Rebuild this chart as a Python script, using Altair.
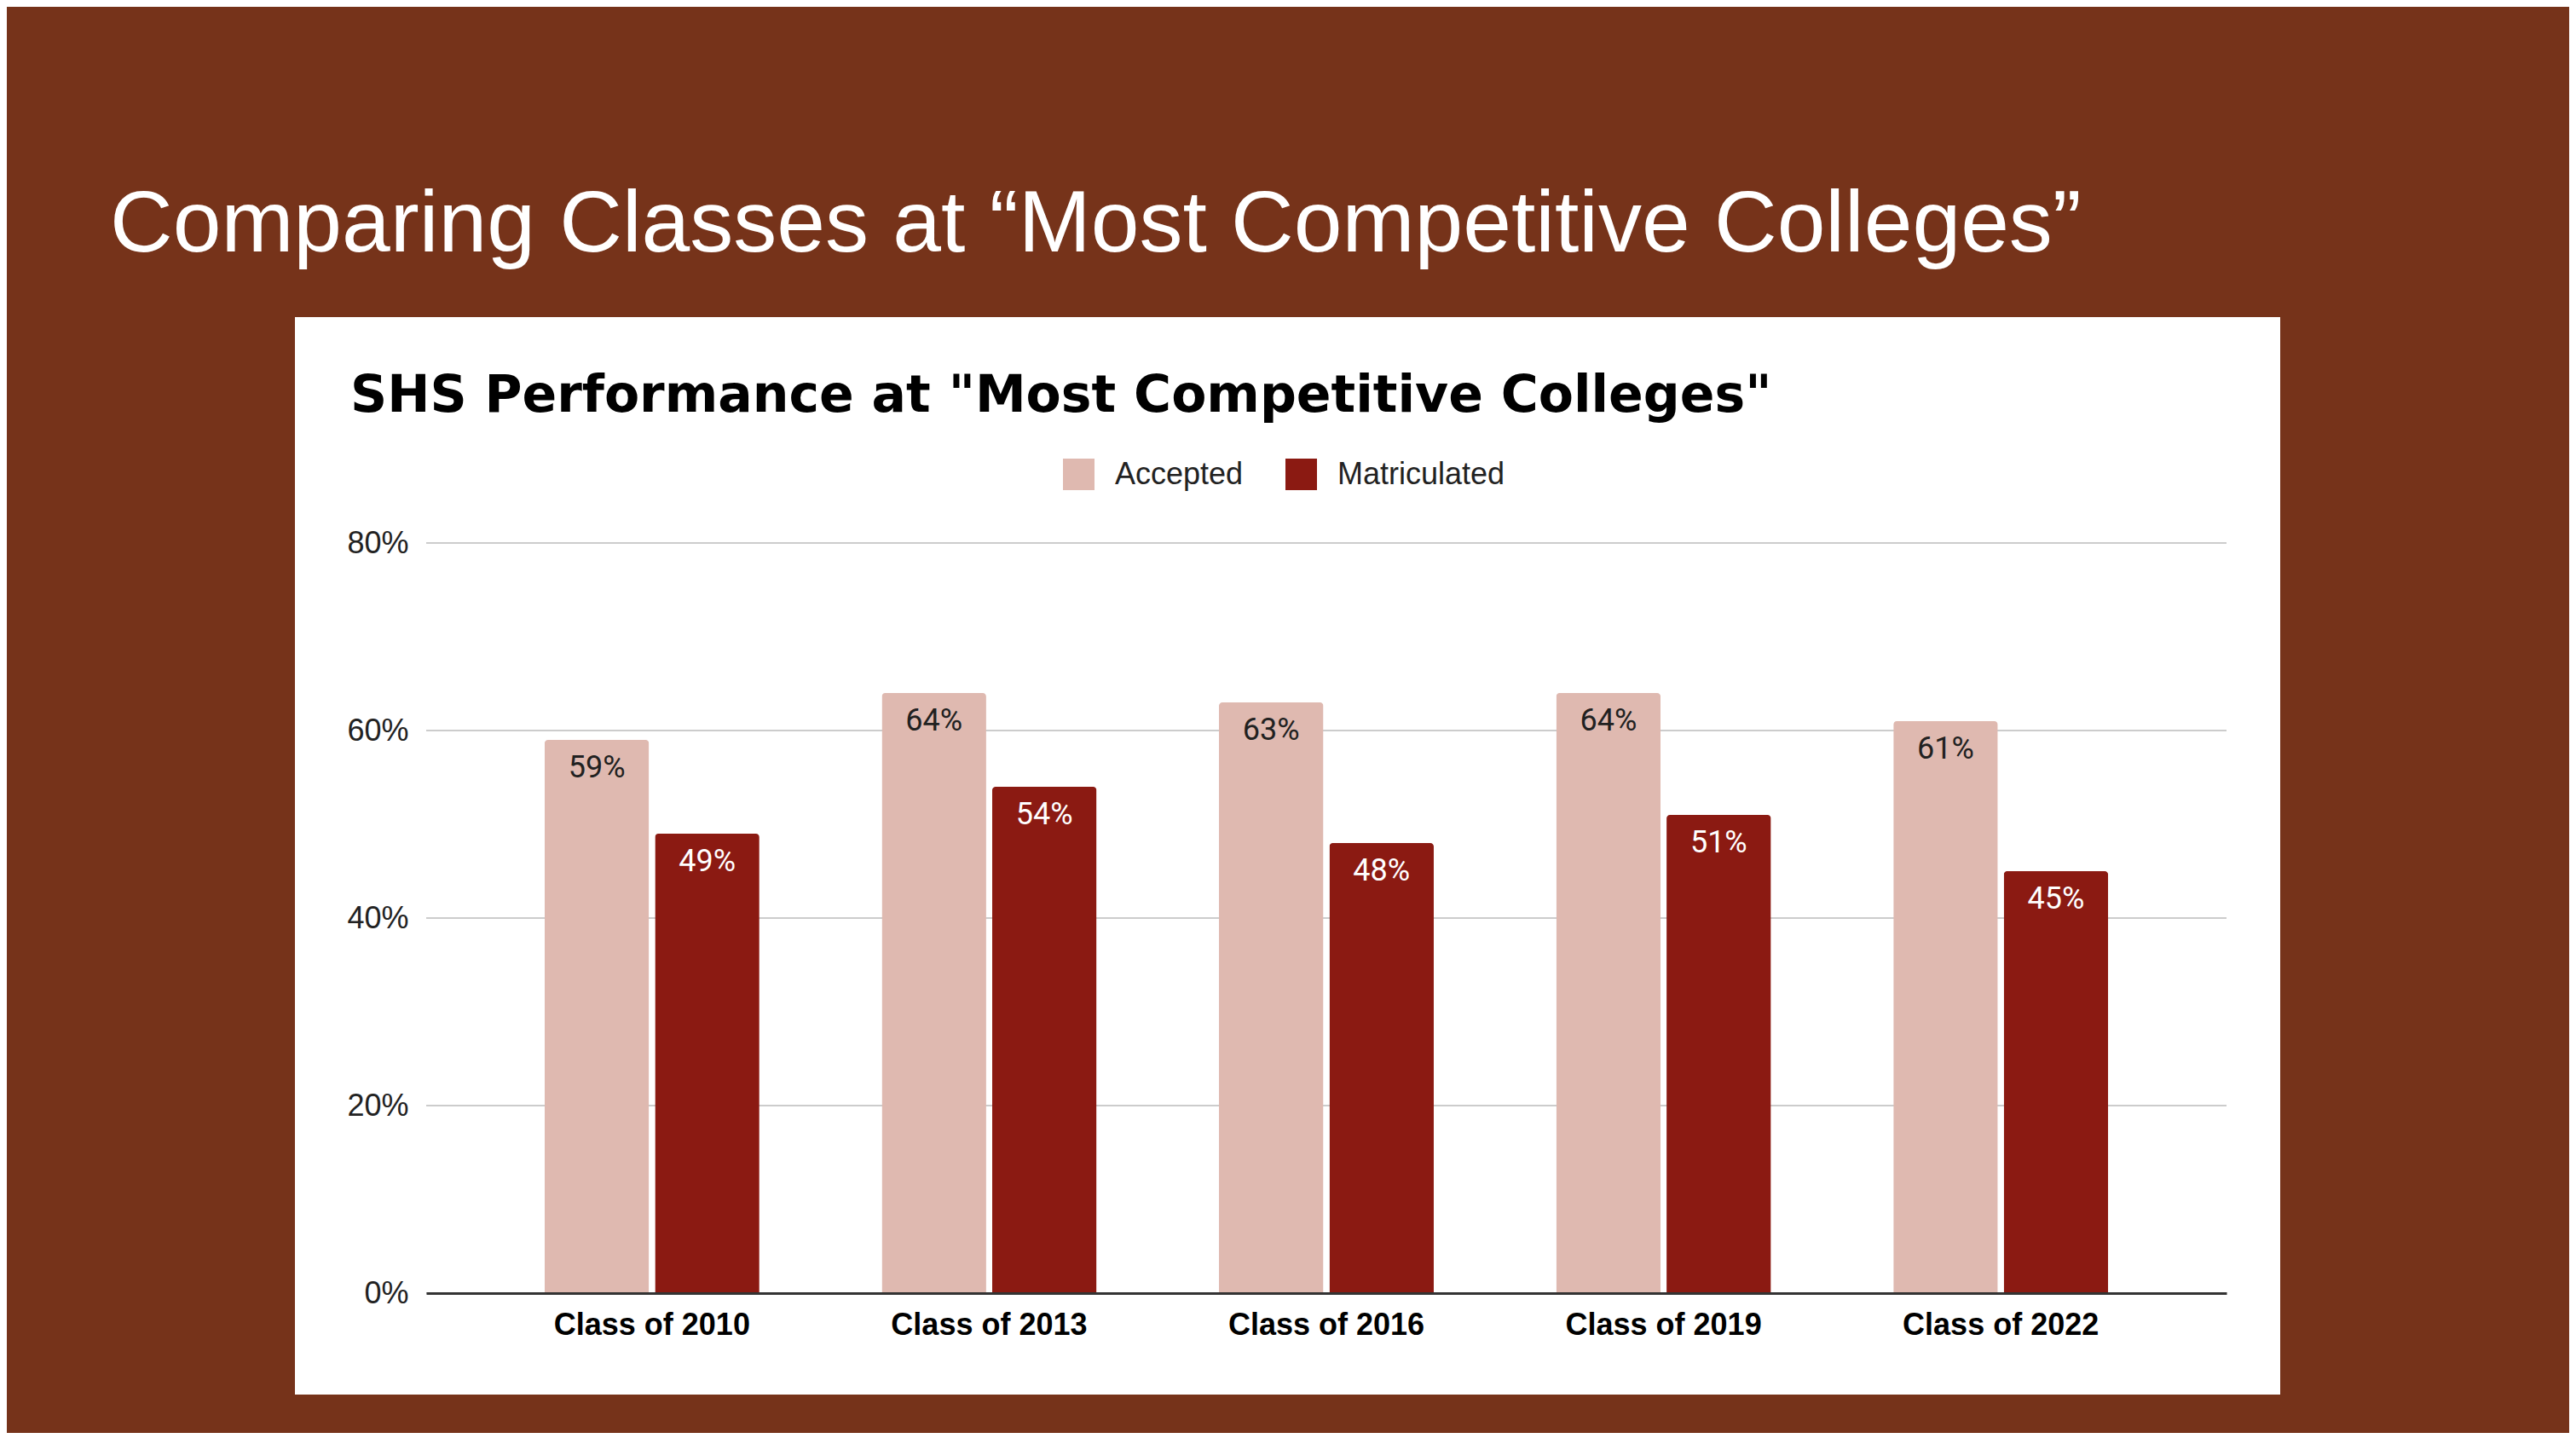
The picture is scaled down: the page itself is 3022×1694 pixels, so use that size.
import altair as alt
import pandas as pd

classes = ["Class of 2010", "Class of 2013", "Class of 2016", "Class of 2019", "Class of 2022"]
series = ["Accepted", "Matriculated"]
accepted = [59, 64, 63, 64, 61]
matriculated = [49, 54, 48, 51, 45]
y_ticks = [0, 20, 40, 60, 80]
colors = ["#DFB9B0", "#8B1A12"]

slide_title = "Comparing Classes at \u201cMost Competitive Colleges\u201d"
chart_title = 'SHS Performance at "Most Competitive Colleges"'

rows = []
for c, a, m in zip(classes, accepted, matriculated):
    rows.append({"Class": c, "Series": series[0], "value": a, "label": f"{a}%"})
    rows.append({"Class": c, "Series": series[1], "value": m, "label": f"{m}%"})
df = pd.DataFrame(rows)
grid_df = pd.DataFrame({"value": y_ticks})
one = pd.DataFrame({"k": [0]})

BG = "#76331A"
W, H = 2112, 880

y_enc = alt.Y(
    "value:Q",
    scale=alt.Scale(domain=[0, 80]),
    axis=alt.Axis(
        values=y_ticks, grid=False, domain=False, ticks=False,
        labelExpr="datum.value + '%'", labelFontSize=36, labelFont="Liberation Sans",
        labelColor="#222222", labelPadding=21, title=None, zindex=1,
    ),
)
x_enc = alt.X(
    "Class:N", sort=classes,
    scale=alt.Scale(paddingInner=0.363, paddingOuter=0.351),
    axis=alt.Axis(
        labelFontSize=36, labelFontWeight="bold", labelFont="Liberation Sans",
        labelColor="#000000", labelAngle=0, labelPadding=20, ticks=False, labelLimit=0,
        domainColor="#333333", domainWidth=3, title=None, zindex=1, grid=False,
    ),
)
xoff = alt.XOffset("Series:N", sort=series, scale=alt.Scale(domain=series, paddingInner=0.054))

box = alt.Chart(one).mark_rect(color="white").encode(
    x=alt.value(-154), x2=alt.value(2175), y=alt.value(-265), y2=alt.value(999)
)
t1 = alt.Chart(one).mark_text(
    text=slide_title, font="Liberation Sans", fontSize=102, color="white",
    align="left", baseline="alphabetic",
).encode(x=alt.value(-371), y=alt.value(-342))
t2 = alt.Chart(one).mark_text(
    text=chart_title, font="DejaVu Sans", fontWeight="bold", fontSize=60, color="#000000",
    align="left", baseline="alphabetic",
).encode(x=alt.value(-89), y=alt.value(-154))

grid = alt.Chart(grid_df).mark_rule(color="#CCCCCC", strokeWidth=2).encode(y=y_enc)

bars = alt.Chart(df).mark_bar(cornerRadiusTopLeft=4, cornerRadiusTopRight=4).encode(
    x=x_enc, xOffset=xoff, y=y_enc,
    color=alt.Color(
        "Series:N", sort=series,
        scale=alt.Scale(domain=series, range=colors),
        legend=alt.Legend(
            orient="none", legendX=747, legendY=-99, direction="horizontal", title=None,
            symbolType="square", symbolSize=1369, symbolStrokeWidth=0,
            labelFontSize=36, labelFont="Liberation Sans", labelColor="#222222",
            labelLimit=0, columnPadding=49, labelOffset=24, padding=0, zindex=1,
        ),
    ),
)

labels = alt.Chart(df).mark_text(
    font="Roboto", fontSize=36, baseline="middle", align="center", dy=33
).encode(
    x=x_enc, xOffset=xoff, y=y_enc, text="label:N",
    color=alt.condition("datum.Series == 'Accepted'", alt.value("#212121"), alt.value("#FFFFFF")),
)

chart = alt.layer(box, t1, t2, grid, bars, labels).properties(
    width=W, height=H,
    autosize=alt.AutoSizeParams(type="none"),
    padding={"left": 492, "top": 629, "right": 402, "bottom": 164},
    background=BG,
).configure_view(stroke=None, fill=None)

chart.save("out.html", embed_options={"renderer": "svg", "actions": False})
